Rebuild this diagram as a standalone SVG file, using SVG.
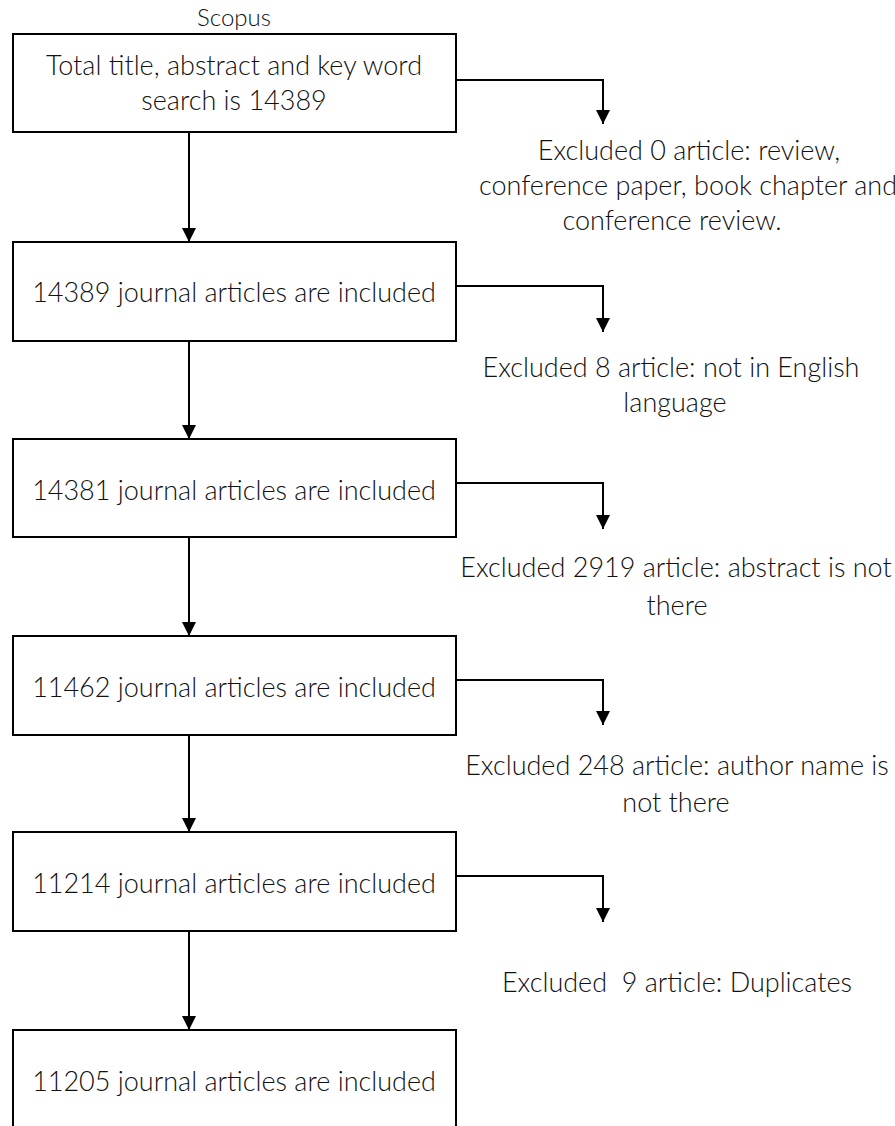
<svg xmlns="http://www.w3.org/2000/svg" width="895" height="1126" viewBox="0 0 895 1126">
<style>
.box{fill:#fff;stroke:#000;stroke-width:2}
.t{font-family:Lato,"Open Sans","Liberation Sans",sans-serif;font-weight:300;font-size:27px;fill:#111;text-anchor:middle}
.c{fill:none;stroke:#000;stroke-width:2}
</style>
<defs>
<marker id="ah" markerUnits="userSpaceOnUse" markerWidth="14" markerHeight="14" refX="13" refY="6.5" orient="auto" viewBox="0 0 13 13">
<path d="M0,0 L13,6.5 L0,13 Z" fill="#000"/>
</marker>
</defs>
<rect width="895" height="1126" fill="#fff"/>
<text class="t" x="234" y="26" style="font-size:24px">Scopus</text>
<g id="connectors">
<path class="c" d="M189,132 V242" marker-end="url(#ah)"/>
<path class="c" d="M189,341 V439" marker-end="url(#ah)"/>
<path class="c" d="M189,537 V636" marker-end="url(#ah)"/>
<path class="c" d="M189,735 V832" marker-end="url(#ah)"/>
<path class="c" d="M189,931 V1030" marker-end="url(#ah)"/>
<path class="c" d="M457,80 H603 V124" marker-end="url(#ah)"/>
<path class="c" d="M457,286 H603 V332" marker-end="url(#ah)"/>
<path class="c" d="M457,483 H603 V529" marker-end="url(#ah)"/>
<path class="c" d="M457,680 H603 V725" marker-end="url(#ah)"/>
<path class="c" d="M457,876 H603 V922" marker-end="url(#ah)"/>
</g>
<g id="n1">
<rect class="box" x="13" y="34" width="443" height="98"/>
<text class="t" x="234" y="75">Total title, abstract and key word</text>
<text class="t" x="234" y="110">search is 14389</text>
</g>
<g id="x1">
<text class="t" x="689" y="160">Excluded 0 article: review,</text>
<text class="t" x="688" y="195">conference paper, book chapter and</text>
<text class="t" x="672" y="230">conference review.</text>
</g>
<g id="n2">
<rect class="box" x="13" y="242" width="443" height="99"/>
<text class="t" x="234" y="302">14389 journal articles are included</text>
</g>
<g id="x2">
<text class="t" x="671" y="377">Excluded 8 article: not in English</text>
<text class="t" x="675" y="412">language</text>
</g>
<g id="n3">
<rect class="box" x="13" y="439" width="443" height="98"/>
<text class="t" x="234" y="500">14381 journal articles are included</text>
</g>
<g id="x3">
<text class="t" x="676" y="577">Excluded 2919 article: abstract is not</text>
<text class="t" x="677" y="615">there</text>
</g>
<g id="n4">
<rect class="box" x="13" y="636" width="443" height="99"/>
<text class="t" x="234" y="697">11462 journal articles are included</text>
</g>
<g id="x4">
<text class="t" x="677" y="775">Excluded 248 article: author name is</text>
<text class="t" x="676" y="812">not there</text>
</g>
<g id="n5">
<rect class="box" x="13" y="832" width="443" height="99"/>
<text class="t" x="234" y="893">11214 journal articles are included</text>
</g>
<g id="x5">
<text class="t" x="677" y="992" xml:space="preserve">Excluded  9 article: Duplicates</text>
</g>
<g id="n6">
<rect class="box" x="13" y="1030" width="443" height="110"/>
<text class="t" x="234" y="1091">11205 journal articles are included</text>
</g>
</svg>
